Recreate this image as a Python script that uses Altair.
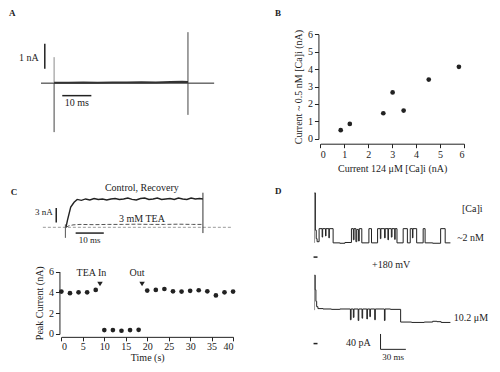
import altair as alt
import pandas as pd

FONT = "Liberation Serif"
INK = "#222222"
GRAY = "#8a8a8a"
W, H = 484, 356          # plot area (page minus 8px margins)
M = 8                    # page margin

# ---------------- data ----------------
# Panel A : macroscopic current trace (time ms, current nA)
a_t = [0, 5, 10, 15, 20, 25, 30, 35, 40, 44, 46]
a_i = [0.02, 0.02, 0.03, 0.02, 0.03, 0.03, 0.04, 0.03, 0.05, 0.06, 0.05]
a_spike_t = [0, 46]
a_spike_lo = [-1.96, -1.27]
a_spike_hi = [0.0, 2.04]
a_spike_up_hi = [1.04]          # lighter upper part of the onset transient

# Panel B : current at ~0.5 nM vs 124 uM [Ca]i (nA)
b_x = [0.85, 1.23, 2.63, 3.02, 3.48, 4.53, 5.79]
b_y = [0.50, 0.86, 1.47, 2.66, 1.62, 3.40, 4.13]

# Panel C (top) : control / recovery and TEA traces (ms, nA)
cc_t = [0, 0.55, 1.7, 2.9, 4.0, 5.5, 7, 8.5, 10, 11.5, 13, 14.5, 16, 17.5, 19,
        20.5, 22, 23.5, 25, 26.5, 28, 29.5, 31, 32.5, 34, 35.5, 37, 38.5, 40,
        41.5, 43, 44.5, 46, 47.5, 48.7]
cc_i = [0, 1.5, 4.2, 5.2, 5.8, 5.6, 5.9, 5.7, 6.0, 5.8, 5.9, 5.7, 5.9, 6.0, 5.8,
        5.9, 6.1, 5.8, 5.7, 6.0, 6.1, 5.8, 5.9, 6.1, 5.8, 5.9, 6.0, 5.8, 6.1,
        5.9, 5.8, 6.1, 5.9, 6.0, 5.9]
tea_t = [0, 1, 2.5, 5, 10, 15, 20, 25, 30, 35, 40, 45, 48.7]
tea_i = [0, 0.3, 0.5, 0.6, 0.55, 0.6, 0.6, 0.65, 0.6, 0.6, 0.65, 0.6, 0.6]

# Panel C (bottom) : peak current vs time
c_t = [0, 2, 4, 6, 8, 10, 12, 14, 16, 18, 20, 22, 24, 26, 28, 30, 32, 34, 36, 38, 40]
c_i = [4.07, 3.92, 4.0, 4.0, 4.23, 0.37, 0.37, 0.31, 0.37, 0.40, 4.17, 4.23,
       4.32, 4.10, 4.07, 4.14, 4.20, 4.10, 3.70, 4.00, 4.07]
arrow_t = [9.0, 18.8]
arrow_i = [4.8, 4.8]
arrow_lab = ["TEA In", "Out"]
arrow_lab_t = [7.0, 17.6]
arrow_lab_i = [5.83, 5.83]

# Panel D : single-channel records (ms, pA)
d1_t = [0, 1, 2, 3, 5.4, 9, 9.6, 13, 13.6, 17, 17.5, 22, 30, 36, 43.7, 46, 46.8,
        49, 50, 52, 53, 56, 64.4, 67.5, 74.7, 78, 78.6, 83, 83.7, 87, 87.5, 91,
        91.8, 95, 95.5, 97.7, 105, 110, 113.4, 116, 116.6, 121, 128.7, 131, 140,
        149.4, 154.8, 161]
d1_i = [167, 70, 48, 40, 74, 52, 74, 55, 74, 50, 74, 37, 36, 38, 74, 45, 74, 40,
        72, 42, 74, 37, 74, 37, 74, 48, 74, 50, 74, 45, 74, 52, 74, 46, 74, 37,
        74, 37, 74, 50, 74, 37, 74, 37, 36, 74, 37, 37]
d2_t = [0, 0.8, 1.6, 2.5, 4, 10, 20, 30, 42.5, 43.3, 46, 46.7, 51.7, 52.4, 56.3,
        57, 62, 62.6, 65.5, 66.2, 71.3, 72, 82.8, 83.5, 90, 102, 115, 130, 140,
        145, 150, 161]
d2_i = [178, 140, 110, 96, 91, 90, 89, 90, 62, 90, 68, 90, 60, 90, 66, 90, 64,
        90, 70, 90, 62, 90, 60, 90, 89, 56, 55, 56, 58, 57, 55, 55]


# ---------------- layout helpers ----------------
# the figure is laid out in the reference's page pixels, squeezed slightly
# so that it fits inside the 8px page margins
def PX(p):
    return 9 + (p - 3) * 0.97 - M


def PY(p):
    return 13 + (p - 6) * 0.961 - M


def xscale(dom, p0, p1):
    return alt.Scale(domain=dom, range=[PX(p0), PX(p1)], nice=False, zero=False)


def yscale(dom, p0, p1):
    return alt.Scale(domain=dom, range=[PY(p0), PY(p1)], nice=False, zero=False)


def XQ(f, sc, axis=None):
    return alt.X(f, type="quantitative", scale=sc, axis=axis)


def YQ(f, sc, axis=None):
    return alt.Y(f, type="quantitative", scale=sc, axis=axis)


def line(xs, ys, t, v, color=INK, width=1.0, dash=None, interp="linear"):
    kw = dict(color=color, strokeWidth=width, interpolate=interp)
    if dash:
        kw["strokeDash"] = dash
    return alt.Chart(pd.DataFrame({"t": t, "v": v})).mark_line(**kw).encode(
        x=XQ("t", xs), y=YQ("v", ys))


def hrule(xs, ys, t0, t1, v, color=INK, width=1.0, dash=None):
    kw = dict(color=color, strokeWidth=width)
    if dash:
        kw["strokeDash"] = dash
    return alt.Chart(pd.DataFrame({"t0": t0, "t1": t1, "v": v})).mark_rule(**kw).encode(
        x=XQ("t0", xs), x2="t1", y=YQ("v", ys))


def vrule(xs, ys, t, lo, hi, color=INK, width=1.0):
    return alt.Chart(pd.DataFrame({"t": t, "lo": lo, "hi": hi})).mark_rule(
        color=color, strokeWidth=width).encode(x=XQ("t", xs), y=YQ("lo", ys), y2="hi")


def text(xs, ys, t, v, labels, align="center", size=10, weight="normal"):
    return alt.Chart(pd.DataFrame({"t": t, "v": v, "s": labels})).mark_text(
        font=FONT, fontSize=size, align=align, baseline="middle", color=INK,
        fontWeight=weight).encode(x=XQ("t", xs), y=YQ("v", ys), text="s:N")


def axis(orient, offset, values, title, label_pad=2, title_pad=4):
    return alt.Axis(orient=orient, offset=offset, values=values, title=title, format="d",
                    grid=False, tickSize=4, domainColor=INK, tickColor=INK,
                    labelFont=FONT, titleFont=FONT, labelFontSize=10, titleFontSize=10,
                    titleFontWeight="normal", labelColor=INK, titleColor=INK,
                    labelPadding=label_pad, titlePadding=title_pad)


layers = []

# ---------------- panel A ----------------
xA = xscale([-5, 55], 34.5, 214.5)
yA = yscale([-2, 2.1], 131, 24.4)
layers += [
    hrule(xA, yA, [-4.5], [55], [0], width=1.0),
    vrule(xA, yA, [0], [0], a_spike_up_hi, color=GRAY),
    vrule(xA, yA, a_spike_t, a_spike_lo, a_spike_hi, color="#444444"),
    line(xA, yA, a_t, a_i, width=2.0, color="#333333"),
    vrule(xA, yA, [-3.2], [0.58], [1.58], width=1.5),
    hrule(xA, yA, [2.8], [12.8], [-0.5], width=1.5),
    text(xA, yA, [-5.3], [1.0], ["1 nA"], align="right"),
    text(xA, yA, [7.8], [-0.81], ["10 ms"]),
    text(xA, yA, [-15.5], [2.8], ["A"], align="left", size=9, weight="bold"),
]

# ---------------- panel B ----------------
xB = xscale([0, 6], 324, 472)
yB = yscale([0, 6], 137, 28)
layers += [
    alt.Chart(pd.DataFrame({"x": b_x, "y": b_y})).mark_circle(size=22, color=INK, opacity=1).encode(
        x=XQ("x", xB, axis("bottom", PY(142) - H, list(range(7)), "Current 124 μM [Ca]i (nA)")),
        y=YQ("y", yB, axis("left", -PX(322), list(range(7)), "Current ~ 0.5 nM [Ca]i (nA)")),
    ),
    text(xB, yB, [-1.9], [7.2], ["B"], align="left", size=9, weight="bold"),
]

# ---------------- panel C top ----------------
xC = xscale([-10, 60], 32.7, 235.7)
yC = yscale([-3, 8], 244, 189)
layers += [
    hrule(xC, yC, [-8.2], [58.7], [0], color="#9a9a9a", dash=[3, 2]),
    line(xC, yC, tea_t, tea_i, color="#555555", width=1.0, dash=[4, 2]),
    line(xC, yC, cc_t, cc_i, width=1.4),
    vrule(xC, yC, [-0.2], [-2.2], [0.6], color="#555555"),
    vrule(xC, yC, [48.7], [-1.2], [7.2], color="#333333"),
    vrule(xC, yC, [-3.45], [1.0], [4.0], width=1.5),
    hrule(xC, yC, [3.45], [13.45], [-1.2], width=1.5),
    text(xC, yC, [27], [8.2], ["Control, Recovery"]),
    text(xC, yC, [27], [1.8], ["3 mM TEA"]),
    text(xC, yC, [-4.7], [3.2], ["3 nA"], align="right", size=9),
    text(xC, yC, [8.4], [-2.6], ["10 ms"], size=9),
    text(xC, yC, [-19.6], [7.4], ["C"], align="left", size=9, weight="bold"),
]

# ---------------- panel C bottom ----------------
xT = xscale([0, 40], 57, 234)
yT = yscale([0, 6], 340, 275)
layers += [
    alt.Chart(pd.DataFrame({"x": c_t, "y": c_i})).mark_circle(size=22, color=INK, opacity=1).encode(
        x=XQ("x", xT, axis("bottom", PY(343) - H, list(range(0, 41, 5)), "Time (s)",
                           label_pad=1, title_pad=1)),
        y=YQ("y", yT, axis("left", -PX(55), [0, 2, 4, 6], "Peak Current (nA)")),
    ),
    alt.Chart(pd.DataFrame({"x": arrow_t, "y": arrow_i})).mark_point(
        shape="triangle-down", filled=True, size=30, color=INK, opacity=1).encode(
        x=XQ("x", xT), y=YQ("y", yT)),
    text(xT, yT, arrow_lab_t, arrow_lab_i, arrow_lab),
]

# ---------------- panel D ----------------
xD = xscale([0, 170], 318, 465.9)
yD1 = yscale([0, 180], 260, 188)
yD2 = yscale([0, 200], 350, 270)
layers += [
    vrule(xD, yD1, [0], [37], [167], color="#9a9a9a"),
    line(xD, yD1, d1_t, d1_i, width=1.0, interp="step-after"),
    hrule(xD, yD1, [-1.2], [3.5], [0], width=1.5),
    vrule(xD, yD2, [0], [87], [178], color="#9a9a9a"),
    line(xD, yD2, d2_t, d2_i, width=1.0, interp="step-after"),
    hrule(xD, yD2, [-1.2], [3.5], [0], width=1.5),
    vrule(xD, yD2, [78.2], [-15], [25], width=1.0),
    hrule(xD, yD2, [78.2], [108.2], [-15], width=1.0),
    text(xD, yD1, [174.7], [125], ["[Ca]i"], align="left"),
    text(xD, yD1, [169], [50], ["~2 nM"], align="left"),
    text(xD, yD2, [90.8], [205], ["+180 mV"]),
    text(xD, yD2, [165], [67.5], ["10.2 μM"], align="left"),
    text(xD, yD2, [66.7], [2.5], ["40 pA"], align="right"),
    text(xD, yD2, [93], [-35], ["30 ms"], size=9),
    text(xD, yD1, [-47], [172], ["D"], align="left", size=9, weight="bold"),
]

chart = (
    alt.layer(*layers)
    .resolve_scale(x="independent", y="independent")
    .properties(width=W, height=H, padding=0, autosize=alt.AutoSizeParams(type="none"),
                background="white")
    .configure_view(stroke=None)
)

chart.save("out.html", embed_options={"renderer": "svg", "actions": False})
